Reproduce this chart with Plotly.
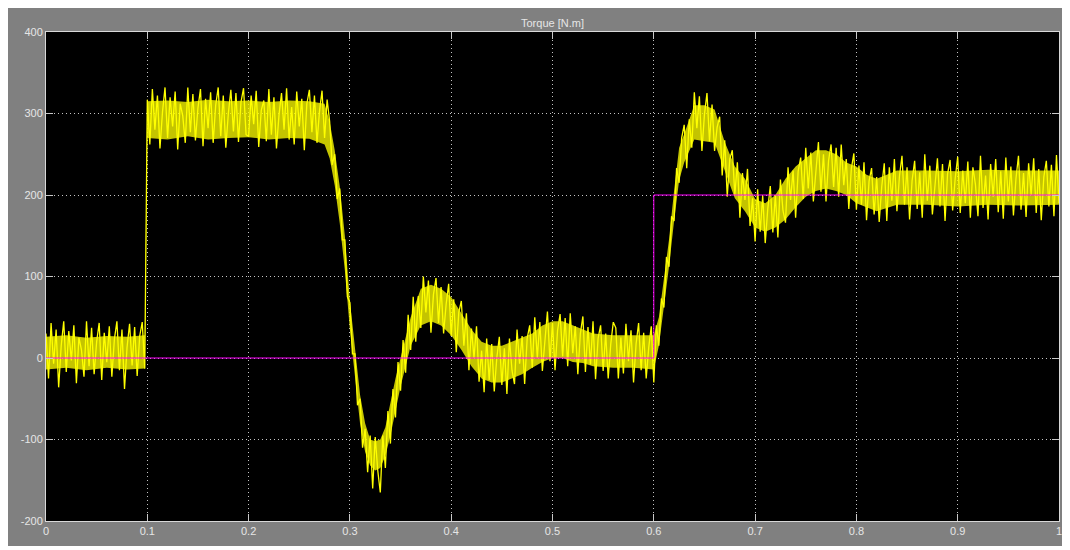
import numpy as np
import plotly.graph_objects as go

# ---------------- data ----------------
dt = 0.0025  # sample spacing of the torque trace [s]

# segment start times [s]
seg_a_t0 = 0.0
seg_b_t0 = 0.1
seg_c_t0 = 0.28
seg_d_t0 = 0.3625
seg_e_t0 = 0.6
seg_f_t0 = 0.63

# measured torque samples [N.m]
torque_seg_a = [30, -25, 43, -7, 35, -36, 15, 45, -17, 33, -3, 40, -31, 25, 10, -23, 45, -10, 37, -20,
                20, 43, -27, 31, -5, 39, -23, 23, 45, -15, 35, -38, 13, 42, -9, 38, -22, 27, 44, -13]

torque_seg_b = [317, 262, 330, 280, 322, 257, 302, 332, 270, 320, 284, 327, 256, 312, 297, 264, 332, 277,
                324, 267, 307, 330, 260, 318, 282, 326, 264, 310, 332, 272, 322, 258, 300, 329, 278, 325,
                265, 314, 331, 274, 272, 322, 287, 328, 259, 304, 316, 266, 330, 274, 320, 257, 298, 325,
                280, 331, 268, 308, 262, 327, 284, 318, 255, 312, 329, 277, 322, 264, 303, 328, 270, 317]

torque_seg_c = [290, 237, 250, 195, 208, 145, 145, 75, 68, 5, 5, -58, -50, -110, -87, -140, -95, -160,
                -97, -138, -165, -95, -135, -65, -105, -38, -73, -5, -40, 22, -18, 53, 10]

torque_seg_d = [75, 20, 76, 37, 100, 56, 95, 31, 78, 98, 43, 87, 30, 66, 91, 27, 72, 7, 56, 70,
                15, 55, -15, 36, 0, 39, -29, 9, -42, 24, -27, 17, -41, 0, 26, -33, 12, -44, 24, -15,
                -32, 35, -7, 27, -32, 24, 40, -12, 50, 0, 44, -16, 26, 57, -4, 43, -15, 34, 54, 2,
                49, -10, 55, 6, 39, -20, 30, 51, -17, 38, -8, 45, -26, 24, 40, -16, 30, -25, 17, 44,
                37, -25, 25, -19, 42, -4, 34, -30, 17, 43, -15, 31, -25, 13, 39]

torque_seg_e = [-30, 40, 15, 73, 62, 124, 112, 174, 168, 233, 215, 270]

torque_seg_f = [286, 233, 293, 258, 326, 282, 321, 254, 299, 325, 266, 311, 254, 283, 296, 224, 267, 198,
                244, 255, 200, 240, 172, 227, 194, 232, 162, 196, 143, 207, 155, 199, 141, 183, 211, 154,
                200, 148, 219, 181, 166, 234, 194, 230, 172, 229, 246, 195, 258, 208, 252, 192, 234, 265,
                204, 250, 192, 242, 262, 210, 258, 198, 262, 212, 244, 183, 232, 251, 182, 236, 188, 240,
                169, 217, 233, 176, 222, 167, 210, 239, 168, 234, 193, 244, 180, 223, 248, 188, 234, 170,
                218, 242, 183, 228, 172, 250, 193, 236, 176, 216, 245, 186, 238, 168, 226, 243, 181, 220,
                247, 178, 230, 190, 241, 172, 234, 213, 174, 248, 184, 224, 170, 238, 198, 244, 179, 229,
                171, 246, 192, 235, 175, 220, 248, 182, 227, 173, 239, 200, 245, 178, 232, 169, 222, 242,
                186, 237, 174, 249, 190]

# dense core of the noisy trace (lower / upper edge of the solid yellow band) [N.m]
band_t = [0.0, 0.02, 0.04, 0.06, 0.08, 0.0975,
          0.1, 0.12, 0.14, 0.16, 0.18, 0.2, 0.22, 0.24, 0.26, 0.275,
          0.28, 0.285, 0.29, 0.295, 0.3, 0.305, 0.31, 0.315, 0.32, 0.325, 0.33, 0.335, 0.34, 0.345, 0.35,
          0.355, 0.36,
          0.37, 0.38, 0.39, 0.4, 0.41, 0.42, 0.43, 0.44, 0.45, 0.46, 0.47, 0.48, 0.49, 0.5, 0.51, 0.52,
          0.53, 0.54, 0.56, 0.58, 0.6,
          0.605, 0.61, 0.615, 0.62, 0.625, 0.63,
          0.64, 0.65, 0.66, 0.67, 0.68, 0.69, 0.7, 0.71, 0.72, 0.73, 0.74, 0.75, 0.76, 0.77, 0.78, 0.79,
          0.8, 0.81, 0.82, 0.83, 0.84,
          0.87, 0.9, 0.93, 0.96, 1.0]
band_lo = [-14, -12, -15, -12, -14, -13,
           270, 268, 272, 268, 270, 271, 268, 270, 269, 262,
           245, 212, 165, 108, 35, -22, -80, -115, -132, -138, -135, -120, -95, -65, -35, -10, 15,
           40, 45, 40, 28, 10, -10, -25, -30, -30, -25, -20, -12, -5, 0, 0, -5, -6, -10, -12, -12, -14,
           15, 62, 112, 168, 218, 240,
           268, 266, 264, 230, 196, 180, 160, 155, 160, 170, 185, 198, 205, 208, 205, 200, 190, 185, 180,
           184, 188,
           188, 186, 188, 187, 188]
band_hi = [26, 28, 25, 27, 26, 28,
           315, 316, 314, 317, 315, 316, 314, 316, 315, 312,
           290, 255, 210, 150, 70, 15, -45, -80, -100, -102, -100, -85, -55, -25, 0, 25, 50,
           85, 90, 85, 75, 55, 35, 20, 15, 15, 20, 25, 30, 40, 45, 45, 40, 35, 30, 28, 28, 28,
           50, 100, 145, 205, 258, 275,
           310, 310, 305, 265, 235, 220, 195, 190, 200, 220, 235, 245, 255, 255, 250, 240, 235, 225, 220,
           225, 230,
           230, 229, 231, 230, 230]

# reference torque (step)
ref_t = [0.0, 0.6, 1.0]
ref_v = [0, 200, 200]

# ticks
x_ticks = [0, 0.1, 0.2, 0.3, 0.4, 0.5, 0.6, 0.7, 0.8, 0.9, 1.0]
x_tick_labels = ["0", "0.1", "0.2", "0.3", "0.4", "0.5", "0.6", "0.7", "0.8", "0.9", "1"]
y_ticks = [-200, -100, 0, 100, 200, 300, 400]
y_tick_labels = ["-200", "-100", "0", "100", "200", "300", "400"]

title_text = "Torque [N.m]"

# ---------------- build ----------------
segments = [(seg_a_t0, torque_seg_a), (seg_b_t0, torque_seg_b), (seg_c_t0, torque_seg_c),
            (seg_d_t0, torque_seg_d), (seg_e_t0, torque_seg_e), (seg_f_t0, torque_seg_f)]
t = np.round(np.concatenate([t0 + dt * np.arange(len(v)) for t0, v in segments]), 5)
y = np.concatenate([np.asarray(v, dtype=float) for _, v in segments])

# the page body has an 8px margin; figure coordinates = page coordinates - 8
OFF = 8
W, H = 1070 - OFF, 550 - OFF
ml, mt = 46 - OFF, 32 - OFF
mr = W - (1062 - OFF)
mb = H - (521 - OFF)
pw, ph = W - ml - mr, H - mt - mb


def px_x(p):
    return (p - OFF - ml) / pw


def px_y(p):
    return (H - mb - (p - OFF)) / ph


YEL = "#ffff00"
fig = go.Figure()
fig.add_trace(go.Scatter(x=band_t, y=band_lo, mode="lines", line=dict(width=0, color=YEL),
                         hoverinfo="skip", showlegend=False))
fig.add_trace(go.Scatter(x=band_t, y=band_hi, mode="lines", line=dict(width=0, color=YEL),
                         fill="tonexty", fillcolor="rgba(245,245,0,0.8)", hoverinfo="skip", showlegend=False))
fig.add_trace(go.Scatter(x=t, y=y, mode="lines", line=dict(color=YEL, width=1.3),
                         hoverinfo="skip", showlegend=False))
fig.add_trace(go.Scatter(x=ref_t, y=ref_v, mode="lines", line=dict(color="#ff00ff", width=1, shape="hv"),
                         hoverinfo="skip", showlegend=False))

txt = "#e6e6e6"
FONT = "Liberation Sans, Arial, sans-serif"
axis_common = dict(
    showgrid=True, gridcolor="#c4c4c4", gridwidth=1, griddash="1px,3px",
    showline=True, linecolor="#d8d8d8", linewidth=1, mirror="ticks",
    ticks="inside", ticklen=7, tickcolor="#c8c8c8", tickwidth=1,
    zeroline=False, tickfont=dict(family=FONT, size=11, color=txt),
)

fig.update_layout(
    width=W, height=H,
    margin=dict(l=ml, r=mr, t=mt, b=mb, pad=0),
    paper_bgcolor="white", plot_bgcolor="black",
    xaxis=dict(range=[0, 1], tickmode="array", tickvals=x_ticks, ticktext=x_tick_labels, **axis_common),
    yaxis=dict(range=[-200, 400], tickmode="array", tickvals=y_ticks, ticktext=y_tick_labels, **axis_common),
    shapes=[
        dict(type="rect", xref="paper", yref="paper", x0=px_x(7), x1=px_x(1068), y0=px_y(546), y1=px_y(7),
             fillcolor="#808080", line=dict(width=0), layer="below"),
        dict(type="rect", xref="paper", yref="paper", x0=0, x1=1, y0=0, y1=1,
             fillcolor="black", line=dict(width=0), layer="below"),
    ],
    annotations=[
        dict(text=title_text, xref="paper", yref="paper", x=0.5, y=px_y(23), showarrow=False,
             xanchor="center", yanchor="middle",
             font=dict(family=FONT, size=11, color=txt)),
    ],
)

fig.write_html("out.html")
